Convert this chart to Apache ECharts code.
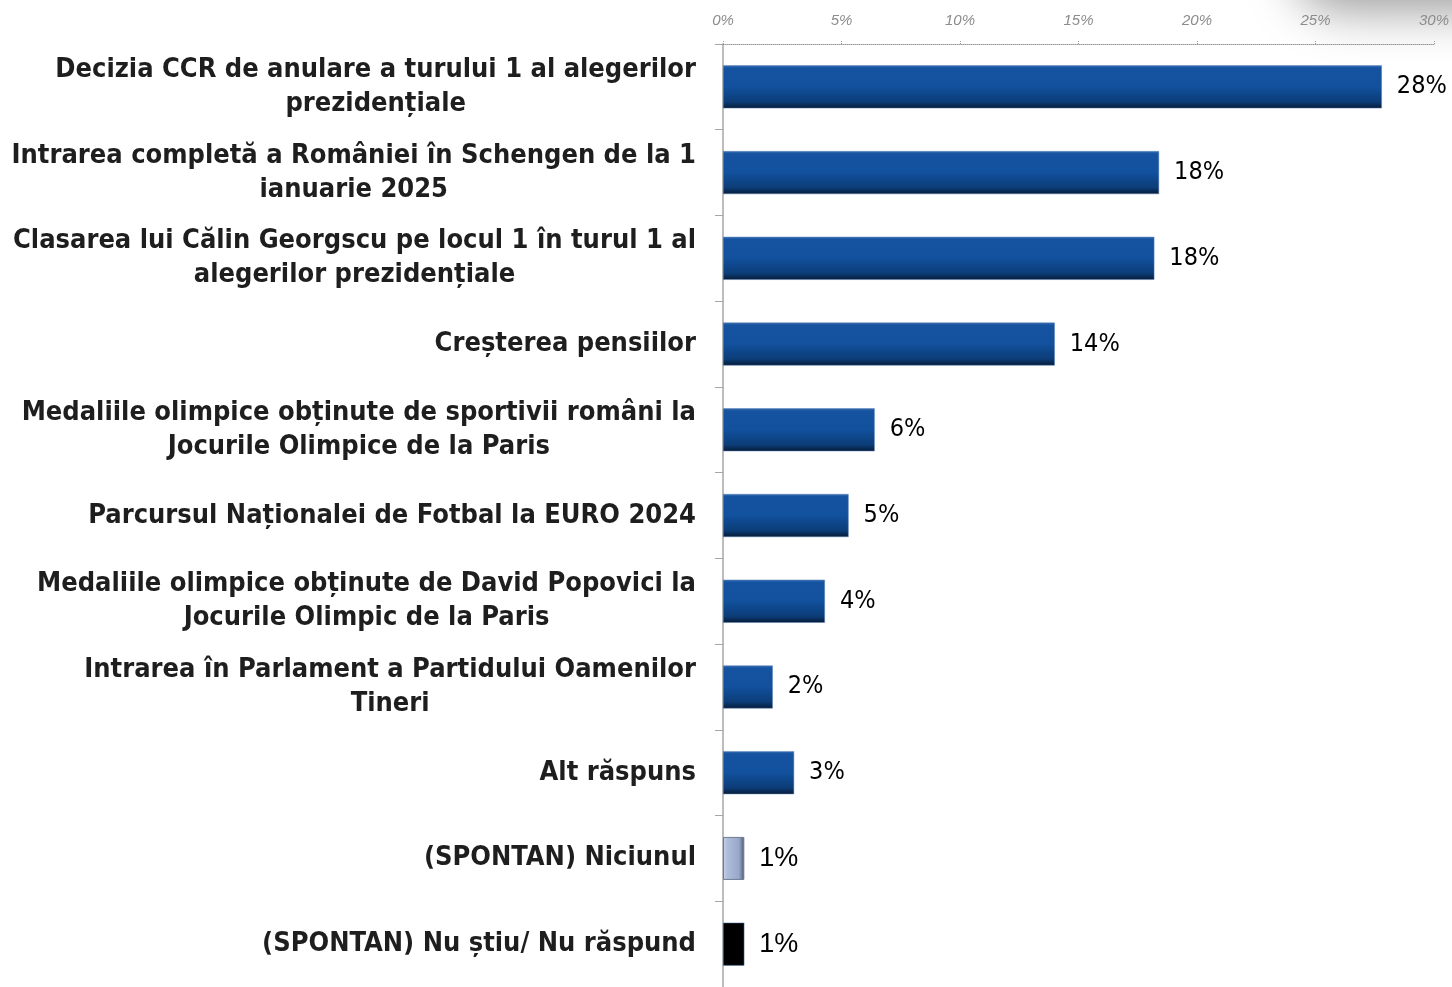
<!DOCTYPE html>
<html>
<head>
<meta charset="utf-8">
<script src="https://cdn.jsdelivr.net/npm/echarts@6/dist/echarts.min.js"></script>
<style>
  html, body { margin: 0; padding: 0; background: #fff; }
  #chart { width: 1452px; height: 987px; }
</style>
</head>
<body>
<div id="chart"></div>
<script>
// categories, top to bottom
var categories = [
  "Decizia CCR de anulare a turului 1 al alegerilor\nprezidențiale",
  "Intrarea completă a României în Schengen de la 1\nianuarie 2025",
  "Clasarea lui Călin Georgscu pe locul 1 în turul 1 al\nalegerilor prezidențiale",
  "Creșterea pensiilor",
  "Medaliile olimpice obținute de sportivii români la\nJocurile Olimpice de la Paris",
  "Parcursul Naționalei de Fotbal la EURO 2024",
  "Medaliile olimpice obținute de David Popovici la\nJocurile Olimpic de la Paris",
  "Intrarea în Parlament a Partidului Oamenilor\nTineri",
  "Alt răspuns",
  "(SPONTAN) Niciunul",
  "(SPONTAN) Nu știu/ Nu răspund"
];
// bar lengths (percent)
var values = [27.8, 18.4, 18.2, 14.0, 6.4, 5.3, 4.3, 2.1, 3.0, 0.9, 0.9];
// printed labels
var valueLabels = ["28%", "18%", "18%", "14%", "6%", "5%", "4%", "2%", "3%", "1%", "1%"];
var tickLabels = ["0%", "5%", "10%", "15%", "20%", "25%", "30%"];

var blueBar = new echarts.graphic.LinearGradient(0, 0, 0, 1, [
  { offset: 0, color: "#3a6fb2" },
  { offset: 0.06, color: "#1553a0" },
  { offset: 0.5, color: "#12519d" },
  { offset: 0.6, color: "#0f4a92" },
  { offset: 0.85, color: "#0c3d78" },
  { offset: 1, color: "#061a36" }
]);
var greyBar = new echarts.graphic.LinearGradient(0, 0, 1, 0, [
  { offset: 0, color: "#c9d4ea" },
  { offset: 0.2, color: "#aebcdb" },
  { offset: 0.75, color: "#98a8c8" },
  { offset: 1, color: "#4c5a74" }
]);

var barData = values.map(function (v, i) {
  var item = { value: v, label: { formatter: valueLabels[i] } };
  if (i === 9) {
    item.itemStyle = { color: greyBar, borderColor: "#6d7a93", borderWidth: 1 };
    item.label.fontFamily = "Liberation Sans";
    item.label.fontSize = 27;
  } else if (i === 10) {
    item.itemStyle = { color: "#000" };
    item.label.fontFamily = "Liberation Sans";
    item.label.fontSize = 27;
  }
  return item;
});

var chart = echarts.init(document.getElementById("chart"));
chart.setOption({
  animation: false,
  graphic: [
    {
      type: "rect",
      shape: { x: 1295, y: -90, width: 280, height: 90, r: 45 },
      style: { fill: "#9a9a9a", shadowBlur: 50, shadowColor: "#9a9a9a", shadowOffsetY: 10 },
      z: -1
    }
  ],
  grid: { left: 723, right: 18, top: 44, height: 946 },
  xAxis: {
    type: "value",
    position: "top",
    min: 0,
    max: 30,
    interval: 5,
    axisLine: { show: true, lineStyle: { color: "#9a9a9a", type: [1, 1] } },
    axisTick: { show: true, length: 4, lineStyle: { color: "#9a9a9a", type: [1, 1] } },
    splitLine: { show: false },
    axisLabel: {
      margin: 16,
      fontFamily: "Liberation Sans",
      fontStyle: "italic",
      fontSize: 15,
      color: "#8c8c8c",
      formatter: function (v) { return tickLabels[v / 5]; }
    }
  },
  yAxis: {
    type: "category",
    inverse: true,
    data: categories,
    axisLine: { show: true, lineStyle: { color: "#a6a6a6", width: 1.5 } },
    axisTick: { show: true, length: 8, lineStyle: { color: "#a6a6a6" } },
    axisLabel: {
      margin: 27,
      formatter: function (v) {
        return v.split("\n").map(function (s) { return "{c|" + s + "}"; }).join("\n");
      },
      rich: {
        c: {
          align: "center",
          fontFamily: "DejaVu Sans Condensed",
          fontWeight: "bold",
          fontSize: 27,
          lineHeight: 34,
          color: "#1e1e1e"
        }
      }
    }
  },
  series: [
    {
      type: "bar",
      data: barData,
      barWidth: 43,
      itemStyle: { color: blueBar, borderColor: "#5a82b8", borderWidth: 0.5 },
      label: {
        show: true,
        position: "right",
        distance: 15,
        fontFamily: "DejaVu Sans Condensed",
        fontSize: 25,
        color: "#000"
      }
    }
  ]
});
</script>
</body>
</html>
